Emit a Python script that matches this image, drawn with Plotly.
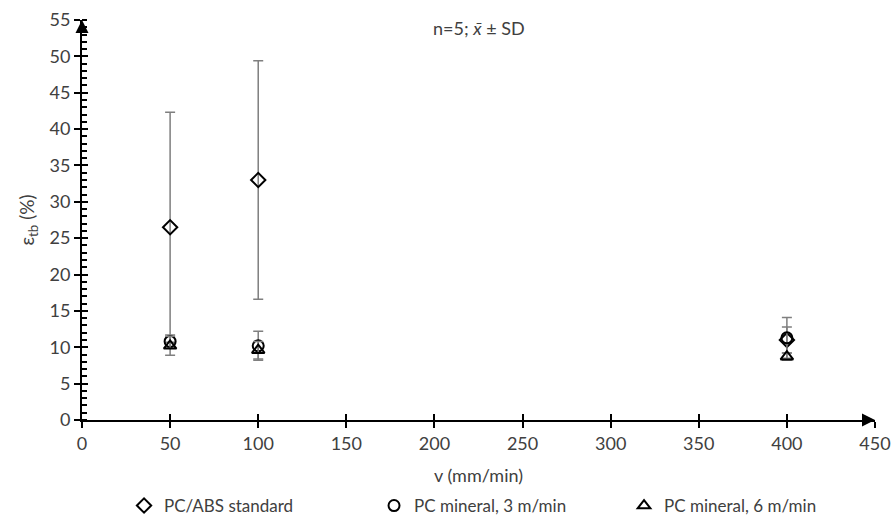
import plotly.graph_objects as go

speeds = [50, 100, 400]
abs_mean = [26.5, 33.0, 11.0]
abs_sd = [15.8, 16.4, 1.8]
min3_mean = [10.8, 10.2, 11.3]
min3_sd = [0.9, 2.0, 2.8]
min6_mean = [10.2, 9.6, 8.7]
min6_sd = [1.3, 1.2, 0.5]

series = [
    ("PC/ABS standard", abs_mean, abs_sd, "diamond-open", 11),
    ("PC mineral, 3 m/min", min3_mean, min3_sd, "circle-open", 11),
    ("PC mineral, 6 m/min", min6_mean, min6_sd, "triangle-up-open", 11),
]

FONT = "Lato, 'Open Sans', sans-serif"
fig = go.Figure()
for name, m, sd, sym, size in series:
    fig.add_trace(go.Scatter(
        x=speeds, y=m, name=name, mode="markers",
        marker=dict(symbol=sym, size=size, color="black", line=dict(width=2, color="black")),
        error_y=dict(type="data", array=sd, visible=True, color="#7f7f7f", thickness=1.5, width=5),
    ))

fig.add_trace(go.Scatter(x=[0], y=[0], xaxis="x2", yaxis="y2", mode="markers",
                         marker=dict(opacity=0), showlegend=False, hoverinfo="skip"))

fig.update_layout(
    width=893, height=523,
    margin=dict(l=82, r=18, t=20, b=103, autoexpand=False),
    plot_bgcolor="white", paper_bgcolor="white",
    font=dict(family=FONT, size=18, color="#404040"),
    showlegend=True,
    legend=dict(orientation="h", x=0.053, xanchor="left", y=-0.215, yanchor="middle",
                font=dict(size=17, color="#404040"), tracegroupgap=0,
                entrywidth=205, entrywidthmode="pixels"),
    xaxis=dict(range=[0, 450], dtick=50, showgrid=False, zeroline=False, automargin=False,
               showline=True, linecolor="black", linewidth=2,
               ticks="outside", ticklen=6, tickwidth=2, tickcolor="black",
               title=dict(text="v (mm/min)", standoff=17, font=dict(size=18))),
    yaxis=dict(range=[0, 55], dtick=5, showgrid=False, zeroline=False, automargin=False,
               showline=True, linecolor="black", linewidth=2,
               ticks="outside", ticklen=6, tickwidth=2, tickcolor="black",
               minor=dict(dtick=1, ticks="inside", ticklen=5, tickwidth=1.5, tickcolor="black"),
               title=dict(text="ε<sub>tb</sub> (%)", standoff=10, font=dict(size=19))),
    xaxis2=dict(range=[0, 450], dtick=50, overlaying="x", showgrid=False, zeroline=False,
                showticklabels=False, ticks="inside", ticklen=6, tickwidth=2, tickcolor="black"),
    yaxis2=dict(range=[0, 55], dtick=5, overlaying="y", showgrid=False, zeroline=False,
                showticklabels=False, ticks="inside", ticklen=6, tickwidth=2, tickcolor="black"),
)

fig.add_annotation(x=0.5, y=1.0, xref="paper", yref="paper", yanchor="top", yshift=5,
                   text="n=5; <i>x̄</i> ± SD", showarrow=False, font=dict(size=18, color="#404040"))

fig.add_annotation(x=0, y=55, xref="x", yref="y", ax=0, ay=14, text="", showarrow=True,
                   arrowhead=2, arrowsize=1.3, arrowwidth=2, arrowcolor="black")
fig.add_annotation(x=450, y=0, xref="x", yref="y", ax=-14, ay=0, text="", showarrow=True,
                   arrowhead=2, arrowsize=1.3, arrowwidth=2, arrowcolor="black")

fig.write_html("out.html", config={"displayModeBar": False},
               post_script="document.body.style.margin='0';document.body.style.overflow='hidden';")
